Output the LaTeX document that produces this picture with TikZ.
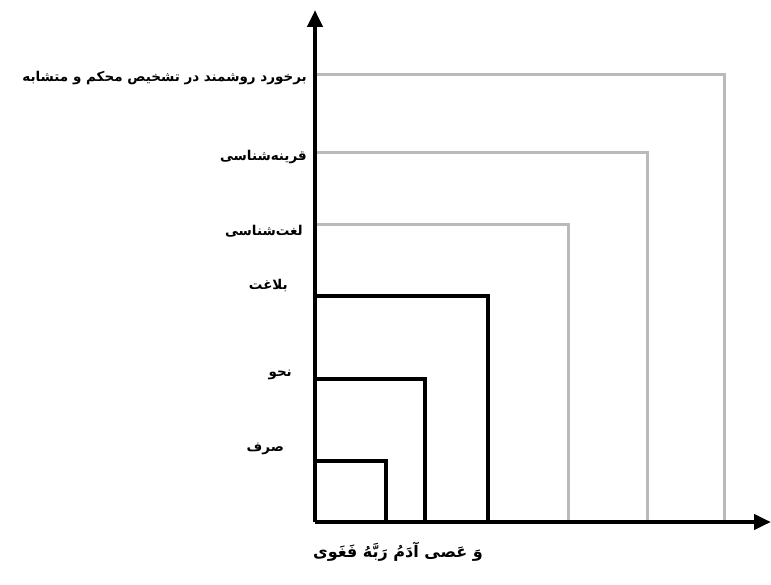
\documentclass[tikz,border=0pt]{standalone}
\usepackage{fontspec}
\usepackage{tikz}
\usetikzlibrary{arrows.meta}
\newfontfamily\arabicfont[Script=Arabic]{DejaVu Sans}
\TeXXeTstate=1

\begin{document}
\begin{tikzpicture}[
            x=1pt, y=-1pt,
            axis/.style={line width=4.5pt, -{Triangle[length=17pt,width=15pt]}},
            inner/.style={line width=4.5pt, black, line join=miter},
            outer/.style={line width=3pt, black!27, line join=miter},
            lbl/.style={anchor=east, inner sep=0pt, font=\arabicfont\bfseries\fontsize{13.5}{15}\selectfont}
        ]
            \useasboundingbox (0,0) rectangle (771,585);
            \coordinate (o) at (315,522);
            \coordinate (ytip) at (315,10);
            \coordinate (xtip) at (771,522);
            % boxes
            \foreach \nm/\tp/\rt/\st in {sarf/461/386/inner, nahw/379/425/inner, balaghat/296/488/inner,
                    loghat/225/568/outer, qarine/153/647/outer, barkhord/75/724/outer} {
                \coordinate (\nm-a) at (315,\tp);
                \coordinate (\nm-b) at (\rt,522);
                \draw[\st] (\nm-a) -| (\nm-b);
            }
            % axes
            \draw[axis] (o) -- (ytip);
            \draw[axis] (o) -- (xtip);
            % labels
            \node[lbl] (sarf) at (284,449) {\beginR صرف\endR};
            \node[lbl] (nahw) at (292,375) {\beginR نحو\endR};
            \node[lbl] (balaghat) at (288,286) {\beginR بلاغت\endR};
            \node[lbl] (loghat) at (303,231) {\beginR لغت‌شناسی\endR};
            \node[lbl] (qarine) at (307,157) {\beginR قرینه‌شناسی\endR};
            \node[lbl] (barkhord) at (307,78) {\beginR برخورد روشمند در تشخیص محکم و متشابه\endR};
            \node[font=\arabicfont\bfseries\fontsize{16}{18}\selectfont] (ayah) at (398,552) {\beginR وَ عَصی آدَمُ رَبَّهُ فَغَوی\endR};
        \end{tikzpicture}
\end{document}
